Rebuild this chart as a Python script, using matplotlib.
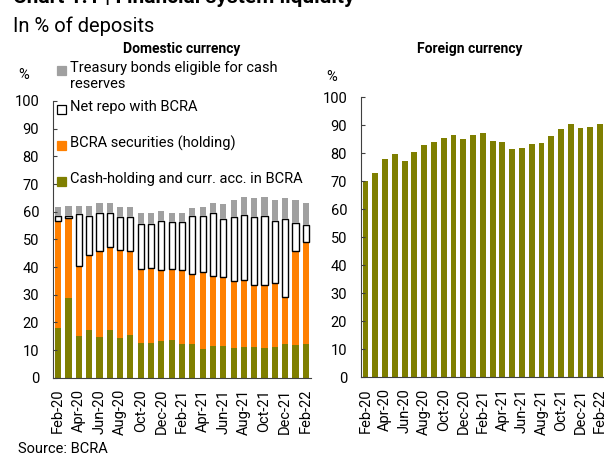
import numpy as np
import matplotlib.pyplot as plt
from matplotlib.patches import Rectangle

plt.rcParams["font.family"] = ["Roboto", "DejaVu Sans"]

months = ["Feb-20", "Mar-20", "Apr-20", "May-20", "Jun-20", "Jul-20", "Aug-20", "Sep-20",
          "Oct-20", "Nov-20", "Dec-20", "Jan-21", "Feb-21", "Mar-21", "Apr-21", "May-21",
          "Jun-21", "Jul-21", "Aug-21", "Sep-21", "Oct-21", "Nov-21", "Dec-21", "Jan-22",
          "Feb-22"]

# domestic currency, cumulative tops (% of deposits)
cash = [17.9, 28.8, 15.0, 17.4, 14.6, 17.4, 14.4, 15.4, 12.7, 12.7, 13.1, 13.5, 12.3,
        12.3, 10.5, 11.4, 11.6, 10.9, 11.2, 11.2, 10.9, 11.2, 12.0, 11.7, 12.0]
top_securities = [56.8, 57.7, 40.5, 44.3, 45.7, 47.2, 46.3, 45.9, 39.2, 39.7, 38.9, 39.4, 38.8,
                  37.4, 38.2, 36.6, 36.4, 34.9, 35.4, 33.5, 33.5, 34.1, 29.3, 45.7, 48.9]
top_repo = [58.6, 58.6, 59.0, 58.6, 59.6, 59.5, 58.0, 58.0, 55.7, 55.5, 56.6, 56.1, 56.2,
            58.4, 58.6, 59.4, 57.4, 57.9, 58.8, 58.2, 58.3, 56.7, 57.3, 56.0, 55.3]
top_bonds = [61.7, 62.0, 62.0, 62.0, 63.0, 63.0, 61.8, 61.7, 59.4, 59.4, 60.1, 59.5, 59.7,
             61.5, 61.8, 63.2, 62.9, 64.1, 65.4, 65.1, 65.3, 64.3, 64.8, 64.2, 63.0]

# foreign currency
foreign = [70.2, 72.9, 78.1, 79.8, 77.4, 80.6, 83.0, 84.2, 85.6, 86.4, 85.0, 86.4, 87.3,
           84.5, 84.2, 81.5, 81.8, 83.2, 83.5, 86.2, 88.6, 90.4, 89.2, 89.4, 90.5]

labels = ["Treasury bonds eligible for cash\nreserves", "Net repo with BCRA",
          "BCRA securities (holding)", "Cash-holding and curr. acc. in BCRA"]

c_gray = "#a0a0a0"
c_orange = "#ff8000"
c_olive = "#7f7f00"

cash = np.array(cash)
securities = np.array(top_securities) - cash
repo = np.array(top_repo) - np.array(top_securities)
bonds = np.array(top_bonds) - np.array(top_repo)

x = np.arange(len(months))
W, H = 604, 455
fig = plt.figure(figsize=(6.04, 4.55), dpi=100)

ax1 = fig.add_axes([53 / W, 77.3 / H, 258 / W, 276.7 / H])
ax2 = fig.add_axes([361 / W, 77.7 / H, 244 / W, 280 / H])

bw = 0.6
ax1.bar(x, cash, bw, color=c_olive, linewidth=0)
ax1.bar(x, securities, bw, bottom=cash, color=c_orange, linewidth=0)
ax1.bar(x, repo, bw, bottom=top_securities, color="white", edgecolor="black", linewidth=1.0)
ax1.bar(x, bonds, bw, bottom=top_repo, color=c_gray, linewidth=0)
ax1.set_xlim(-0.5, 24.5)

ax2.bar(x, foreign, bw, color=c_olive, linewidth=0)
ax2.set_xlim(-0.46, 24.5)

for ax, pad in [(ax1, 10), (ax2, 10)]:
    ax.set_ylim(0, 100)
    ax.set_yticks(np.arange(0, 101, 10))
    ax.set_xticks(x[::2])
    ax.set_xticklabels(months[::2], rotation=90)
    ax.tick_params(axis="y", direction="in", length=3, pad=pad, labelsize=10.5, color="#404040")
    ax.tick_params(axis="x", length=0, pad=8, labelsize=10.5)
    for s in ["top", "right"]:
        ax.spines[s].set_visible(False)
    ax.spines["left"].set_color("#404040")
    ax.spines["bottom"].set_color("#404040")

fig.text(182 / W, 1 - 49 / H, "Domestic currency", ha="center", va="center",
         fontsize=10, fontweight="bold")
fig.text(470 / W, 1 - 49 / H, "Foreign currency", ha="center", va="center",
         fontsize=10, fontweight="bold")
fig.text(24 / W, 1 - 75 / H, "%", ha="center", va="center", fontsize=10.5)
fig.text(332 / W, 1 - 77 / H, "%", ha="center", va="center", fontsize=10.5)

fig.text(13 / W, 1 - 3 / H, "Chart 1.1 | Financial system liquidity", ha="left",
         va="baseline", fontsize=15, fontweight="bold")
fig.text(13 / W, 1 - 32 / H, "In % of deposits", ha="left", va="baseline", fontsize=14.5)
fig.text(18 / W, 1 - 453 / H, "Source: BCRA", ha="left", va="baseline", fontsize=10.5)

# legend drawn by hand to keep the uneven spacing of the original
leg_colors = [c_gray, "white", c_orange, c_olive]
leg_y = [70, 109, 145, 181]
for col, lab, yy in zip(leg_colors, labels, leg_y):
    ec = "black" if col == "white" else col
    fig.patches.append(Rectangle((57 / W, 1 - (yy + 4.5) / H), 8.5 / W, 8.5 / H,
                                 transform=fig.transFigure, facecolor=col,
                                 edgecolor=ec, linewidth=0.9))
    fig.text(70 / W, 1 - (yy - 9) / H, lab, ha="left", va="top", fontsize=10.5,
             linespacing=1.15)

fig.savefig("out.png", dpi=100)
